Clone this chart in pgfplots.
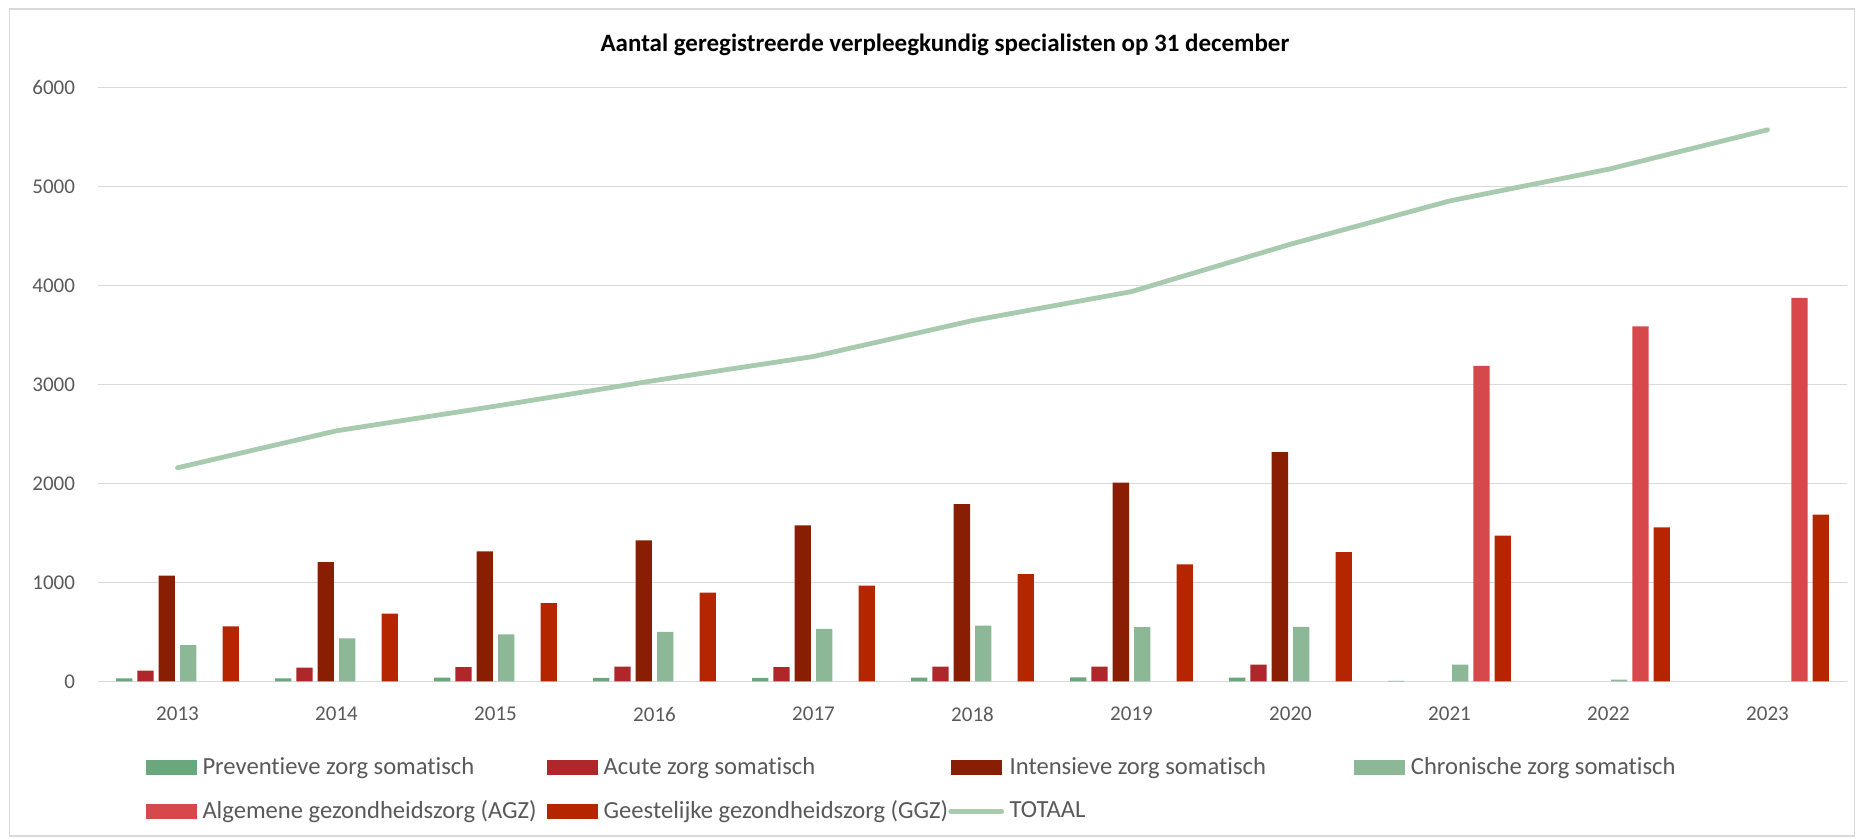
\documentclass[border=0pt]{standalone}
\usepackage{pgfplots}
\pgfplotsset{compat=1.18}
\usepackage{fontspec}
\setmainfont{Carlito}[Ligatures=NoCommon]
\definecolor{cPrev}{HTML}{6BA77C}
\definecolor{cAcute}{HTML}{B0272B}
\definecolor{cInt}{HTML}{8A1E02}
\definecolor{cChron}{HTML}{8CB897}
\definecolor{cAGZ}{HTML}{D6484A}
\definecolor{cGGZ}{HTML}{B52600}
\definecolor{cTot}{HTML}{A8CBB0}
\definecolor{cGrid}{HTML}{D9D9D9}
\definecolor{cText}{HTML}{595959}
\pgfplotsset{
  mybar/.style={ybar, bar width=8.15pt, draw=none,
    legend image code/.code={\fill[##1] (0pt,-3.75pt) rectangle (25.5pt,3.75pt);}},
  myline/.style={legend image code/.code={\draw[##1] (0pt,0pt) -- (25.5pt,0pt);}},
}
\newcommand{\lgd}[1]{\makebox[171pt][l]{#1}}
\begin{document}
\begin{tikzpicture}
\useasboundingbox (0,0) rectangle (929pt,419.5pt);
\draw[cGrid, line width=0.75pt] (4.75pt,1.5pt) rectangle (927.3pt,415pt);
\node[font=\fontsize{12.5}{15}\selectfont\bfseries, text=black] at (472.5pt,397pt) {Aantal geregistreerde verpleegkundig specialisten op 31 december};
\begin{axis}[
  at={(49pt,78.85pt)}, anchor=south west,
  scale only axis, width=874.5pt, height=296.8pt,
  xmin=-0.5, xmax=10.5, ymin=0, ymax=6000,
  xtick={0,...,10},
  xticklabels={2013,2014,2015,2016,2017,2018,2019,2020,2021,2022,2023},
  ytick={0,1000,...,6000},
  ymajorgrids, grid style={cGrid, line width=0.75pt},
  axis x line*=bottom, axis y line*=left,
  x axis line style={cGrid, line width=0.75pt, -},
  y axis line style={draw=none},
  major tick length=0pt,
  tick label style={font=\fontsize{10.5}{12.6}\selectfont, text=cText},
  /pgf/number format/assume math mode=true,
  /pgf/number format/1000 sep={},
  xticklabel style={yshift=-9.5pt},
  yticklabel style={xshift=-8pt},
  legend columns=4,
  legend cell align=left,
  legend style={at={(0.02716,-0.1240)}, anchor=north west, draw=none, fill=none,
    inner sep=0pt, font=\fontsize{12.3}{14.5}\selectfont, text=cText,
    nodes={inner sep=1.3pt}, column sep=0pt, row sep=8.8pt,
    /tikz/every odd column/.append style={column sep=1.5pt}},
]
\addplot[mybar, fill=cPrev, bar shift=-26.6pt] coordinates {(0,30)(1,30)(2,37)(3,34)(4,34)(5,37)(6,40)(7,37)(8,5)};
\addlegendentry{\lgd{Preventieve zorg somatisch}}
\addplot[mybar, fill=cAcute, bar shift=-15.98pt] coordinates {(0,108)(1,139)(2,142)(3,148)(4,142)(5,148)(6,148)(7,168)};
\addlegendentry{\lgd{Acute zorg somatisch}}
\addplot[mybar, fill=cInt, bar shift=-5.33pt] coordinates {(0,1069)(1,1204)(2,1312)(3,1424)(4,1576)(5,1792)(6,2008)(7,2316)};
\addlegendentry{\lgd{Intensieve zorg somatisch}}
\addplot[mybar, fill=cChron, bar shift=5.33pt] coordinates {(0,365)(1,433)(2,473)(3,500)(4,531)(5,562)(6,548)(7,551)(8,169)(9,17)};
\addlegendentry{\lgd{Chronische zorg somatisch}}
\addplot[mybar, fill=cAGZ, bar shift=15.98pt] coordinates {(8,3187)(9,3588)(10,3875)};
\addlegendentry{\lgd{Algemene gezondheidszorg (AGZ)}}
\addplot[mybar, fill=cGGZ, bar shift=26.6pt] coordinates {(0,555)(1,683)(2,791)(3,896)(4,967)(5,1082)(6,1183)(7,1305)(8,1472)(9,1556)(10,1684)};
\addlegendentry{\lgd{Geestelijke gezondheidszorg (GGZ)}}
\addplot[myline, cTot, line width=2.4pt, line cap=round, line join=round, mark=none]
  coordinates {(0,2158)(1,2532)(2,2781)(3,3040)(4,3283)(5,3646)(6,3939)(7,4418)(8,4855)(9,5176)(10,5574)};
\addlegendentry{TOTAAL}
\end{axis}
\end{tikzpicture}
\end{document}
